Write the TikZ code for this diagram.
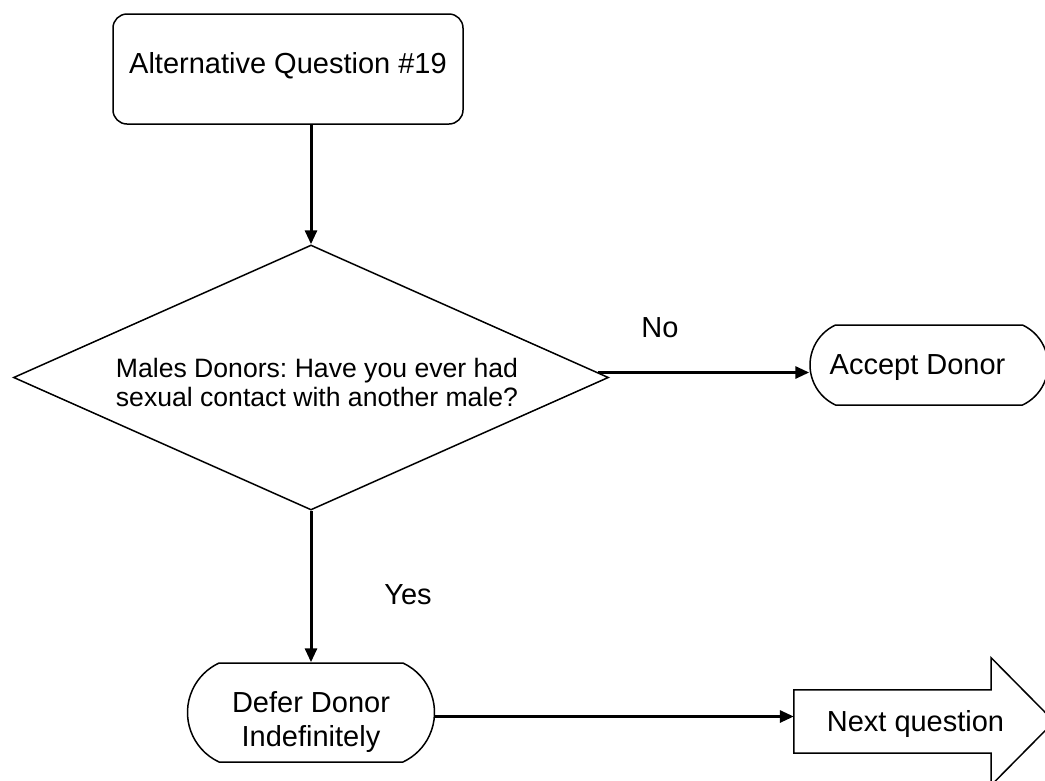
\documentclass[tikz,border=0pt]{standalone}
\usepackage{fontspec}
\setmainfont{Liberation Sans}
\usetikzlibrary{shapes.geometric,shapes.misc,arrows.meta,calc}
\frenchspacing
\begin{document}
\begin{tikzpicture}[x=1pt,y=-1pt,
  every node/.style={font=\fontsize{29}{34}\selectfont},
  box/.style={draw, line width=1.5pt},
  arr/.style={line width=3pt, -{Triangle[length=14pt,width=12pt]}},
  stadium/.style={box, rounded rectangle, rounded rectangle arc length=130},
]
\fill[white] (0,0) rectangle (1045,780);
\useasboundingbox (0,0) rectangle (1045,780);
\clip (0,0) rectangle (1045,780);

\node[box, rounded corners=14pt, minimum width=350pt, minimum height=110pt,
      text height=20pt, text depth=12pt] (top) at (288,69) {Alternative Question \#19};

\node[box, diamond, aspect=2.245, minimum width=595pt, minimum height=265pt, inner sep=0pt,
      text height=10pt, text depth=10pt, font=\fontsize{26.6}{28.5}\selectfont] (dia) at (311,377.5)
      {\makebox[0pt]{\hspace*{12pt}\begin{tabular}[t]{@{}c@{}}Males Donors: Have you ever had\\sexual contact with another male?\end{tabular}}};

\node[stadium, minimum width=238pt, minimum height=80pt, inner sep=0pt,
      text height=20pt, text depth=2pt] (acc) at (929,365) {\makebox[0pt]{Accept Donor\hspace*{23pt}}};

\node[stadium, minimum width=247pt, minimum height=99pt, inner sep=0pt,
      text height=10pt, text depth=10pt] (def) at (311,712.5)
      {\begin{tabular}[t]{@{}c@{}}Defer Donor\\Indefinitely\end{tabular}};

\node[minimum width=197pt, minimum height=63pt, inner sep=0pt,
      text height=21pt, text depth=2pt] (nxt) at (892.5,721.5) {\makebox[0pt]{\hspace*{46pt}Next question}};
\draw[box] (nxt.north west) -- (nxt.north east) -- ++(0,-32) -- ($(nxt.east)+(63,0)$)
  -- ($(nxt.south east)+(0,32)$) -- (nxt.south east) -- (nxt.south west) -- cycle;

\node[anchor=base] (no) at (660,337) {No};
\node[anchor=base] (yes) at (408,604) {Yes};

\draw[arr] (dia.north |- top.south) -- (dia.north);
\coordinate (noS) at ($(dia.east)+(-11,-5)$);
\draw[arr] (noS) -- (noS -| acc.west);
\draw[arr] (dia.south) -- (def.north);
\coordinate (defS) at ($(def.east)+(0,4)$);
\draw[arr] (defS) -- (defS -| nxt.west);
\end{tikzpicture}
\end{document}
